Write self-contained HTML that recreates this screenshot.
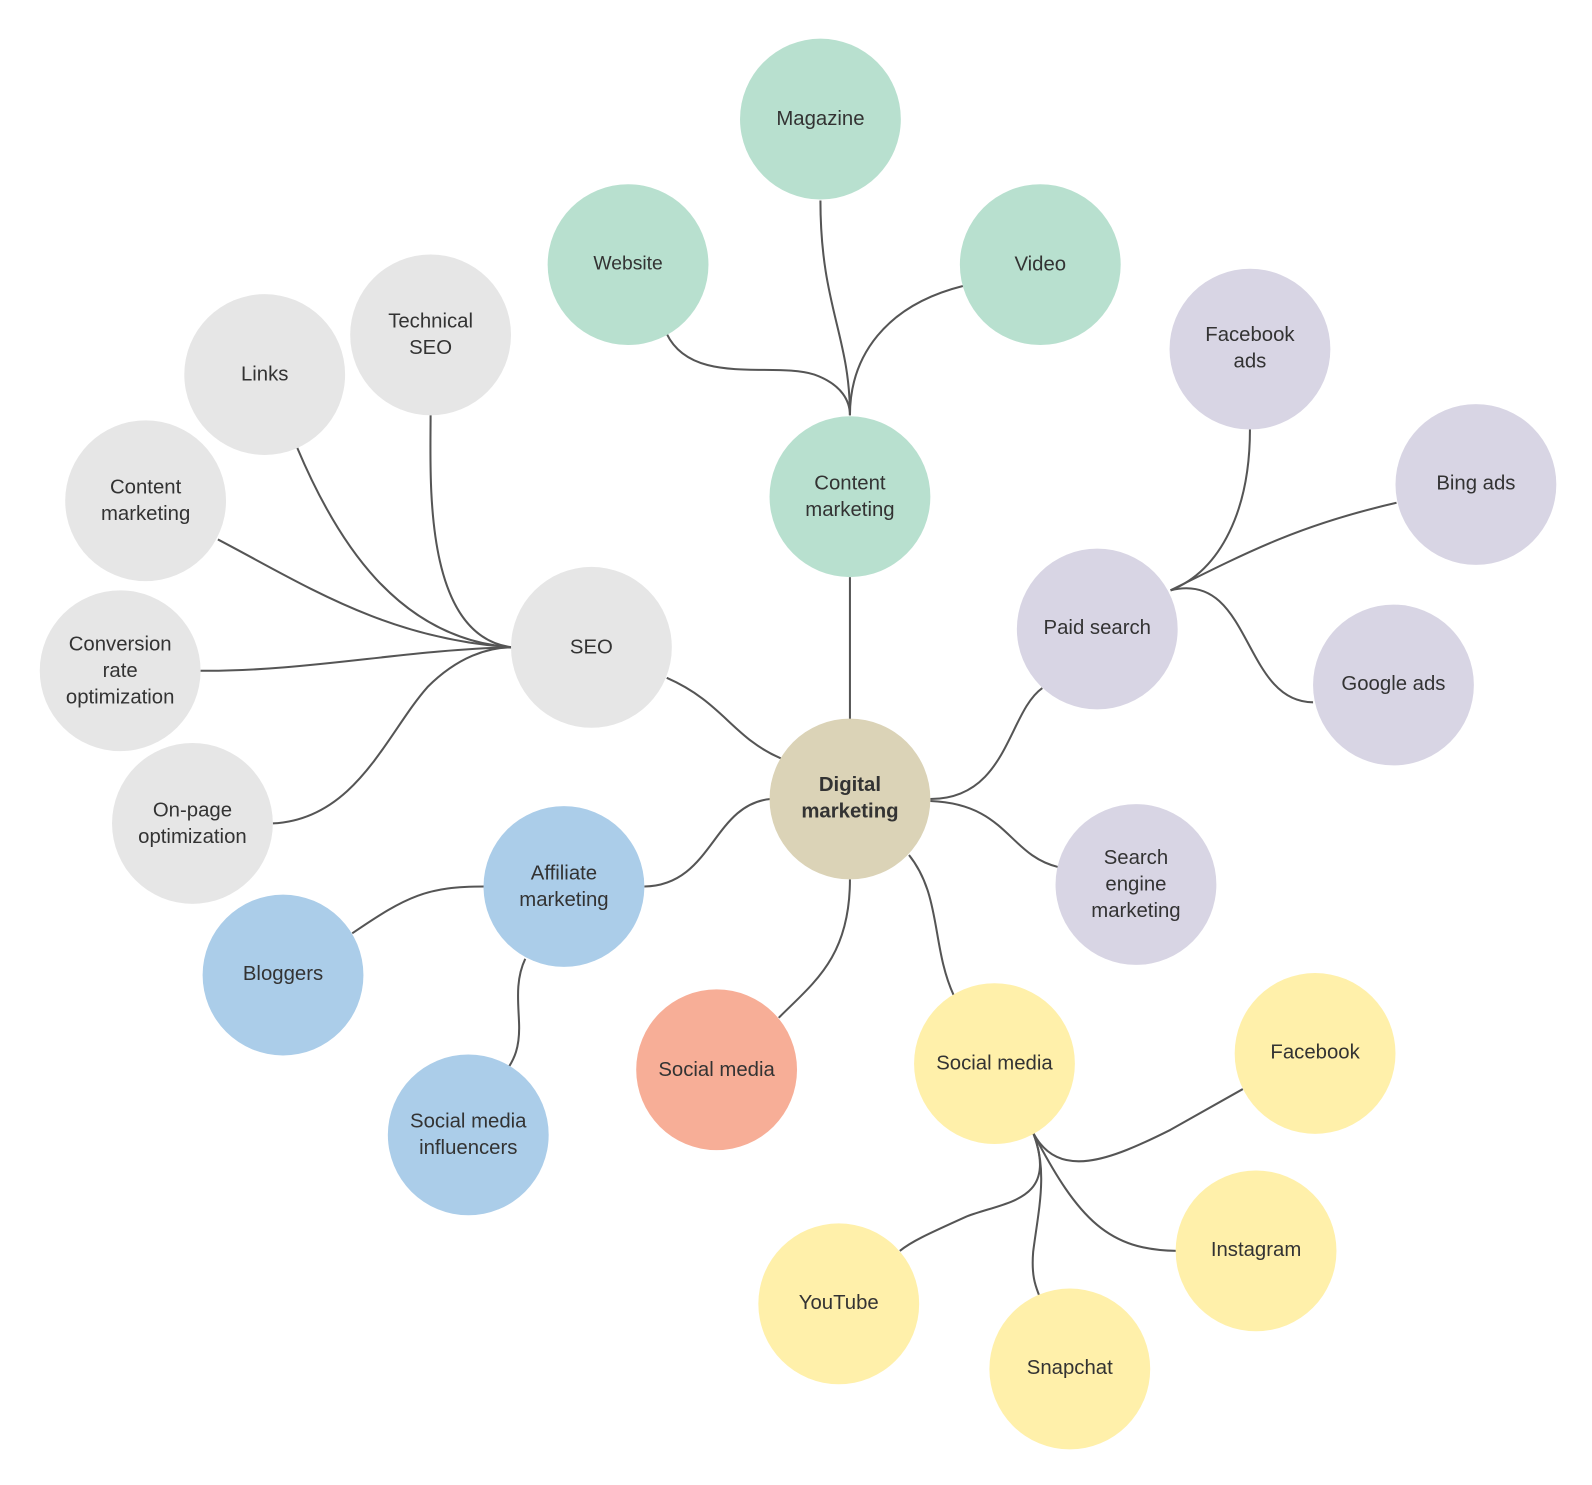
<!DOCTYPE html>
<html><head><meta charset="utf-8"><style>
html,body{margin:0;padding:0;background:#fff;width:1592px;height:1485px;overflow:hidden}
svg{display:block}
text{font-family:"Liberation Sans",Arial,sans-serif;font-size:20px;fill:#333;text-anchor:middle}
.e{fill:none;stroke:#555;stroke-width:2}
</style></head><body>
<svg width="1592" height="1485" viewBox="0 0 1564 1459" xmlns="http://www.w3.org/2000/svg">
<g class="edges">
<path class="e" d="M835,707 L835,567"/>
<path class="e" d="M835,408 C835,330 806,300 806,197"/>
<path class="e" d="M655,328 C680,380 760,355 800,368 C828,378 835,395 835,408"/>
<path class="e" d="M946,281 C870,300 835,350 835,408"/>
<path class="e" d="M423,408 C423,470 415,625 503,636"/>
<path class="e" d="M292,440 C330,530 390,628 503,636"/>
<path class="e" d="M214,530 C300,575 380,628 503,636"/>
<path class="e" d="M197,659 C300,660 400,638 503,636"/>
<path class="e" d="M268,809 C350,805 380,720 420,675 C450,645 480,636 503,636"/>
<path class="e" d="M655,666 C710,690 720,725 767,745"/>
<path class="e" d="M914,785 C990,785 990,700 1024,676"/>
<path class="e" d="M1150,580 C1200,560 1228,500 1228,422"/>
<path class="e" d="M1150,580 C1230,540 1280,515 1372,494"/>
<path class="e" d="M1150,580 C1230,560 1220,690 1290,690"/>
<path class="e" d="M914,787 C990,790 990,840 1040,852"/>
<path class="e" d="M757,785 C700,790 700,870 633,871"/>
<path class="e" d="M476,871 C420,871 400,880 346,917"/>
<path class="e" d="M516,942 C505,965 510,990 510,1010 C510,1030 505,1040 500,1048"/>
<path class="e" d="M835,864 C835,940 800,965 765,1000"/>
<path class="e" d="M893,840 C925,880 915,930 937,978"/>
<path class="e" d="M1015,1113 C1040,1160 1090,1140 1150,1110 L1221,1070"/>
<path class="e" d="M1015,1113 C1060,1200 1090,1228 1156,1229"/>
<path class="e" d="M1015,1113 C1030,1150 1020,1190 1015,1230 C1013,1255 1018,1265 1021,1273"/>
<path class="e" d="M1015,1113 C1040,1180 990,1180 950,1195 C910,1213 895,1220 884,1229"/>
</g>
<g>
<circle cx="835" cy="785" r="79" fill="#dbd3b7"/>
<text x="835" y="777" style="font-weight:bold">Digital</text><text x="835" y="803" style="font-weight:bold">marketing</text>

<circle cx="835" cy="488" r="79" fill="#b8e0cf"/>
<text x="835" y="481">Content</text><text x="835" y="507">marketing</text>
<circle cx="806" cy="117" r="79" fill="#b8e0cf"/><text x="806" y="123">Magazine</text>
<circle cx="617" cy="260" r="79" fill="#b8e0cf"/><text x="617" y="265" style="font-size:19px">Website</text>
<circle cx="1022" cy="260" r="79" fill="#b8e0cf"/><text x="1022" y="266">Video</text>

<circle cx="581" cy="636" r="79" fill="#e6e6e6"/><text x="581" y="642">SEO</text>
<circle cx="423" cy="329" r="79" fill="#e6e6e6"/><text x="423" y="322">Technical</text><text x="423" y="348">SEO</text>
<circle cx="260" cy="368" r="79" fill="#e6e6e6"/><text x="260" y="374">Links</text>
<circle cx="143" cy="492" r="79" fill="#e6e6e6"/><text x="143" y="485">Content</text><text x="143" y="511">marketing</text>
<circle cx="118" cy="659" r="79" fill="#e6e6e6"/><text x="118" y="639">Conversion</text><text x="118" y="665">rate</text><text x="118" y="691">optimization</text>
<circle cx="189" cy="809" r="79" fill="#e6e6e6"/><text x="189" y="802">On-page</text><text x="189" y="828">optimization</text>

<circle cx="1078" cy="618" r="79" fill="#d8d5e4"/><text x="1078" y="623">Paid search</text>
<circle cx="1228" cy="343" r="79" fill="#d8d5e4"/><text x="1228" y="335">Facebook</text><text x="1228" y="361">ads</text>
<circle cx="1450" cy="476" r="79" fill="#d8d5e4"/><text x="1450" y="481">Bing ads</text>
<circle cx="1369" cy="673" r="79" fill="#d8d5e4"/><text x="1369" y="678">Google ads</text>
<circle cx="1116" cy="869" r="79" fill="#d8d5e4"/><text x="1116" y="849">Search</text><text x="1116" y="875">engine</text><text x="1116" y="901">marketing</text>

<circle cx="554" cy="871" r="79" fill="#abcde9"/><text x="554" y="864">Affiliate</text><text x="554" y="890">marketing</text>
<circle cx="278" cy="958" r="79" fill="#abcde9"/><text x="278" y="963">Bloggers</text>
<circle cx="460" cy="1115" r="79" fill="#abcde9"/><text x="460" y="1108">Social media</text><text x="460" y="1134">influencers</text>

<circle cx="704" cy="1051" r="79" fill="#f7ae97"/><text x="704" y="1057">Social media</text>

<circle cx="977" cy="1045" r="79" fill="#fff0aa"/><text x="977" y="1051">Social media</text>
<circle cx="1292" cy="1035" r="79" fill="#fff0aa"/><text x="1292" y="1040">Facebook</text>
<circle cx="1234" cy="1229" r="79" fill="#fff0aa"/><text x="1234" y="1234">Instagram</text>
<circle cx="1051" cy="1345" r="79" fill="#fff0aa"/><text x="1051" y="1350">Snapchat</text>
<circle cx="824" cy="1281" r="79" fill="#fff0aa"/><text x="824" y="1286">YouTube</text>
</g>
</svg>
</body></html>
